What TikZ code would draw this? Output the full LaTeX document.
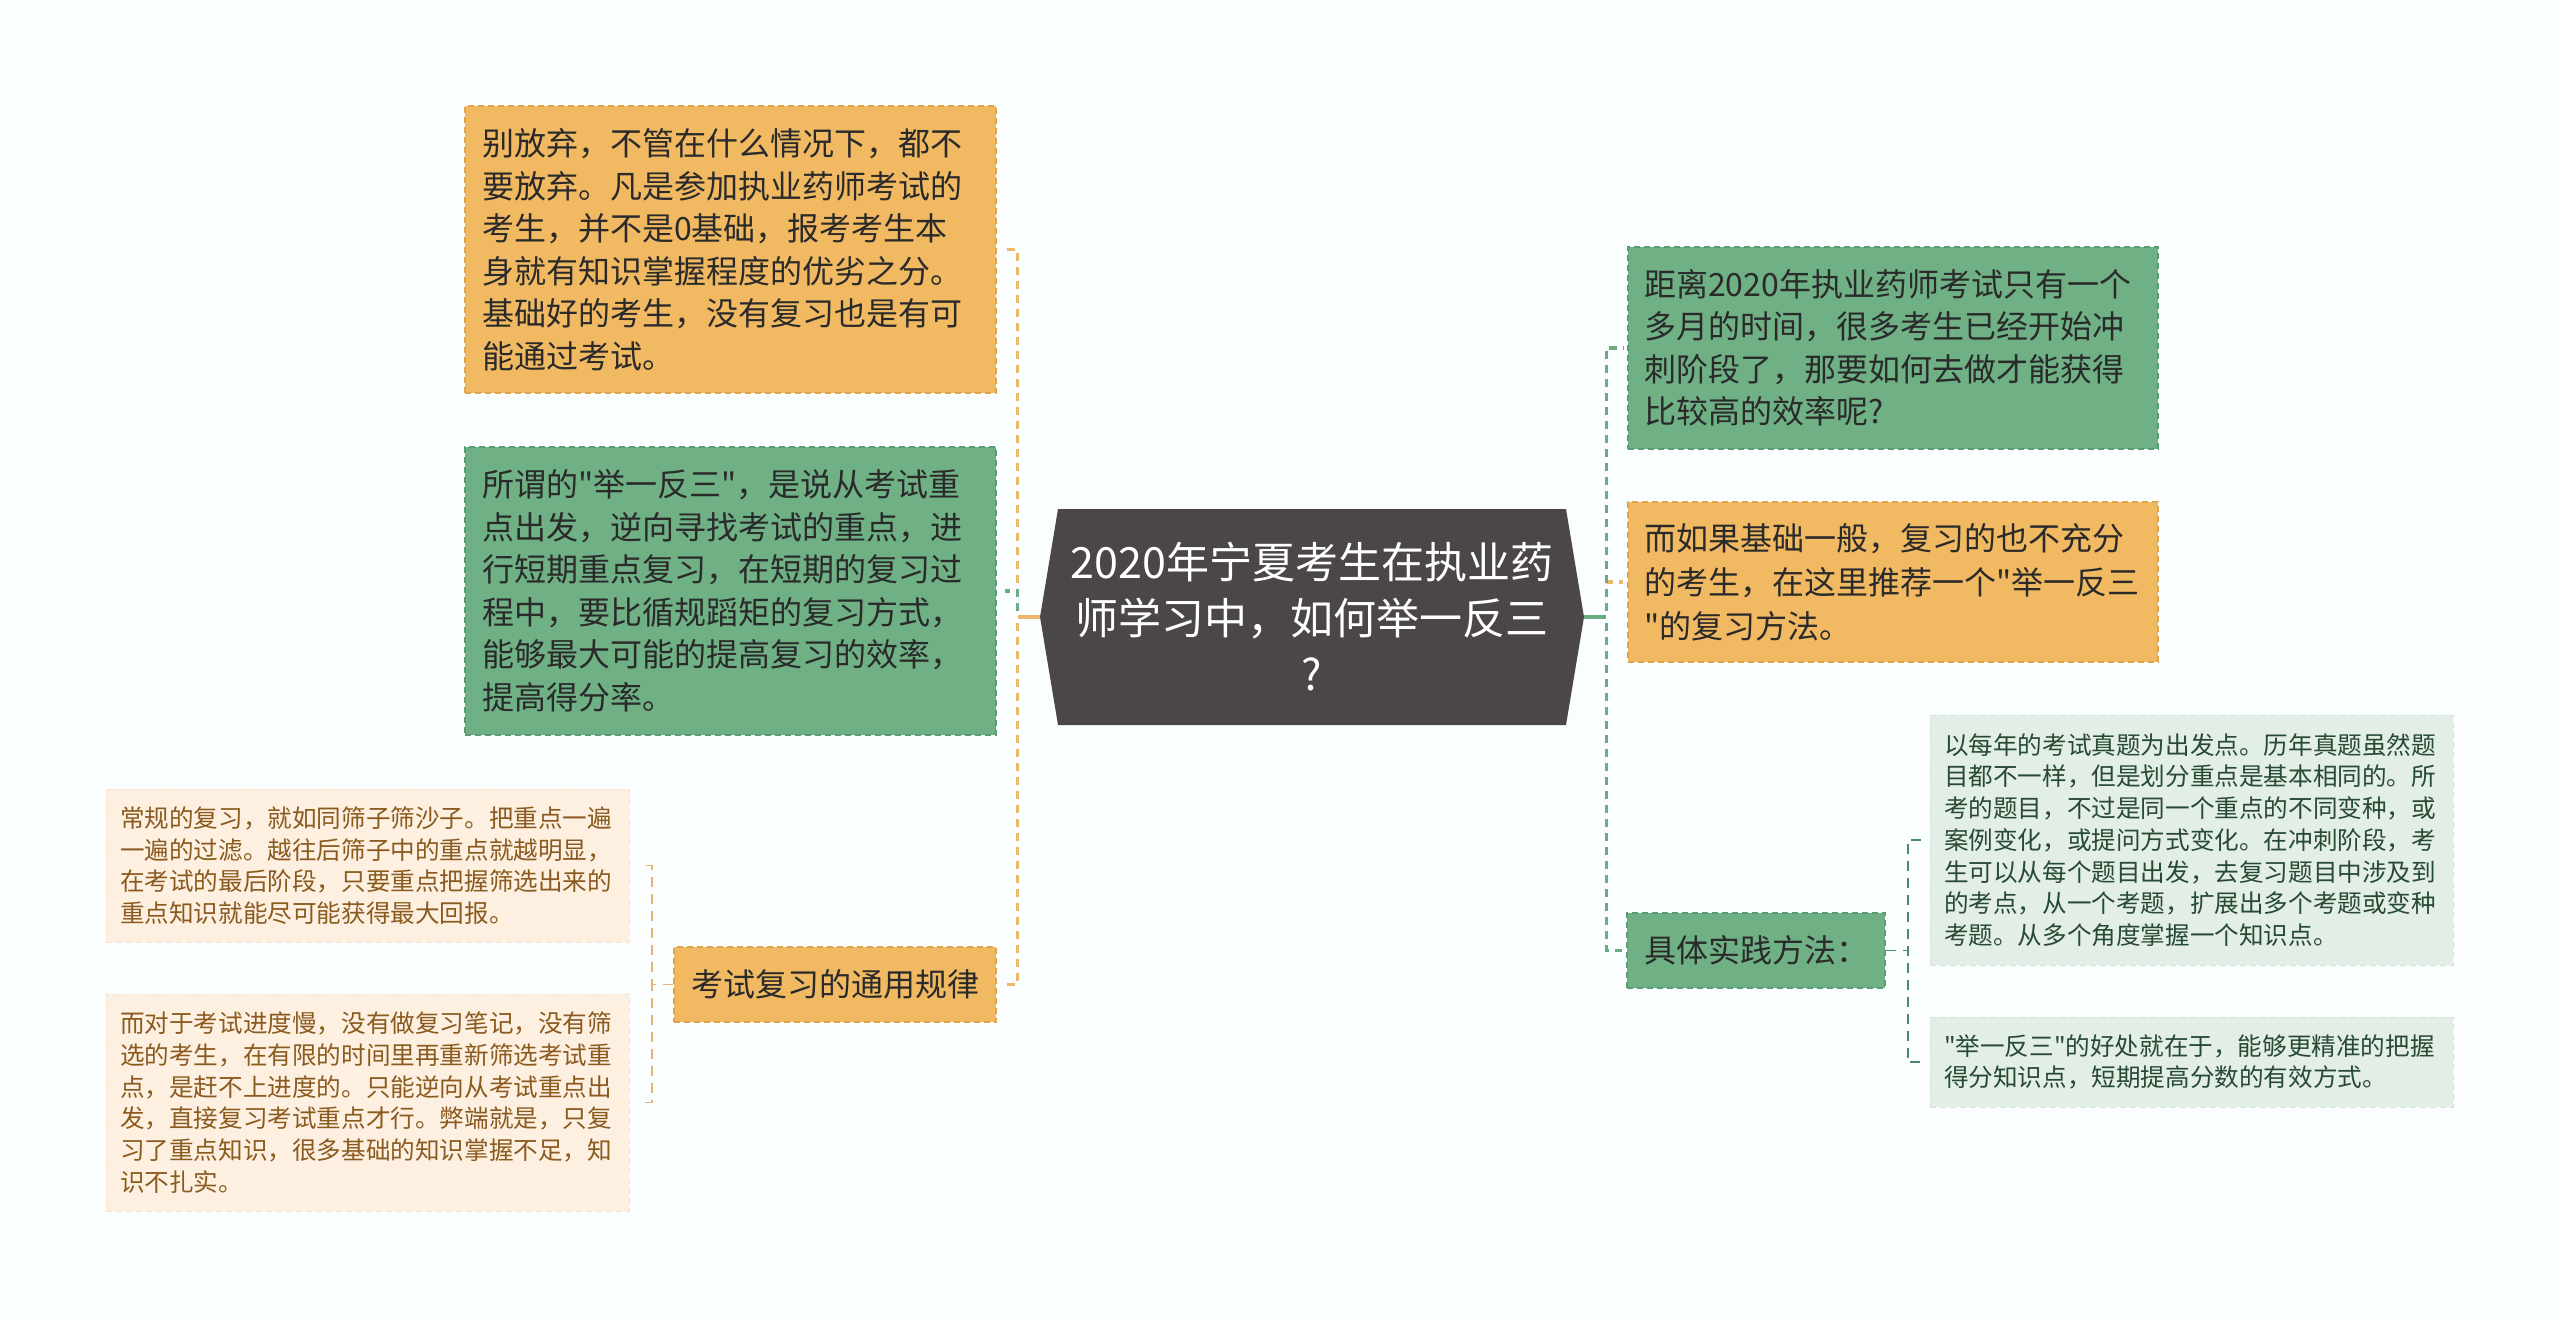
\documentclass[tikz,border=0pt]{standalone}
\usepackage{fontspec}
\setmainfont{Noto Sans CJK SC}[Ligatures=TeXOff]
\usetikzlibrary{calc}
\definecolor{bgc}{HTML}{FBFEFE}
\definecolor{orgfill}{HTML}{F1BA62}
\definecolor{orgline}{HTML}{DFA54D}
\definecolor{grnfill}{HTML}{6FB085}
\definecolor{grnline}{HTML}{5C9C74}
\definecolor{hexc}{HTML}{4B4647}
\definecolor{lorgfill}{HTML}{FDF0E1}
\definecolor{lorgline}{HTML}{F5E2CA}
\definecolor{lorgtext}{HTML}{8A5A1E}
\definecolor{lgrnfill}{HTML}{E3EEE6}
\definecolor{lgrnline}{HTML}{D3E3D8}
\definecolor{lgrntext}{HTML}{274A33}
\definecolor{maintext}{HTML}{2A2A2A}
\definecolor{corg}{HTML}{EDB868}
\definecolor{cgrn}{HTML}{6AAB82}
\definecolor{thinorg}{HTML}{E2B574}
\definecolor{thingrn}{HTML}{4E8A63}
\begin{document}
\begin{tikzpicture}[x=1pt,y=-1pt,
  bigbox/.style={line width=1.5pt, dash pattern=on 6pt off 4pt, inner ysep=0pt,
    align=left, text=maintext, font=\fontsize{32}{42.5}\selectfont},
  orgbox/.style={bigbox, fill=orgfill, draw=orgline},
  grnbox/.style={bigbox, fill=grnfill, draw=grnline},
  smallbox/.style={line width=1pt, dash pattern=on 6pt off 4pt, inner ysep=0pt,
    align=left, font=\fontsize{24.6}{31.7}\selectfont},
  lorgbox/.style={smallbox, fill=lorgfill, draw=lorgline, text=lorgtext},
  lgrnbox/.style={smallbox, fill=lgrnfill, draw=lgrnline, text=lgrntext},
  oconn/.style={draw=corg, line width=3.2pt, dash pattern=on 8pt off 6pt},
  gconn/.style={draw=cgrn, line width=3.2pt, dash pattern=on 8pt off 6pt},
  othin/.style={draw=thinorg, line width=1.6pt, dash pattern=on 10pt off 7pt},
  gthin/.style={draw=thingrn, line width=1.6pt, dash pattern=on 10pt off 7pt}
]
\useasboundingbox (0,0) rectangle (2560,1319);
\fill[bgc] (0,0) rectangle (2560,1319);

% central hexagon
\fill[hexc] (1040,617) -- (1058,509) -- (1566,509) -- (1584,617) -- (1566,725) -- (1058,725) -- cycle;
\node[minimum width=544pt, minimum height=216pt, inner sep=0pt, align=center, text=white,
  font=\fontsize{43}{56}\selectfont] (hub) at (1312,617)
  {2020年宁夏考生在执业药\\师学习中，如何举一反三\\?};

% left side
\node[orgbox, inner xsep=17pt, text width=497pt, minimum width=531pt, minimum height=287pt] (TL) at (730.5,249.5)
 {别放弃，不管在什么情况下，都不\\要放弃。凡是参加执业药师考试的\\考生，并不是0基础，报考考生本\\身就有知识掌握程度的优劣之分。\\基础好的考生，没有复习也是有可\\能通过考试。};
\node[grnbox, inner xsep=17pt, text width=497pt, minimum width=531pt, minimum height=288pt] (GL) at (730.5,591)
 {所谓的"举一反三"，是说从考试重\\点出发，逆向寻找考试的重点，进\\行短期重点复习，在短期的复习过\\程中，要比循规蹈矩的复习方式，\\能够最大可能的提高复习的效率，\\提高得分率。};
\node[orgbox, align=center, inner xsep=16pt, text width=290pt, minimum width=322pt, minimum height=75pt] (RU) at (835,984.5)
 {考试复习的通用规律};
\node[lorgbox, inner xsep=14pt, text width=495pt, minimum width=523pt, minimum height=153pt] (L1) at (367.5,865.5)
 {常规的复习，就如同筛子筛沙子。把重点一遍\\一遍的过滤。越往后筛子中的重点就越明显，\\在考试的最后阶段，只要重点把握筛选出来的\\重点知识就能尽可能获得最大回报。};
\node[lorgbox, inner xsep=14pt, text width=495pt, minimum width=523pt, minimum height=217pt] (L2) at (367.5,1102.5)
 {而对于考试进度慢，没有做复习笔记，没有筛\\选的考生，在有限的时间里再重新筛选考试重\\点，是赶不上进度的。只能逆向从考试重点出\\发，直接复习考试重点才行。弊端就是，只复\\习了重点知识，很多基础的知识掌握不足，知\\识不扎实。};

% right side
\node[grnbox, inner xsep=16pt, text width=498pt, minimum width=530pt, minimum height=202pt] (R1) at (1893,348)
 {距离2020年执业药师考试只有一个\\多月的时间，很多考生已经开始冲\\刺阶段了，那要如何去做才能获得\\比较高的效率呢?};
\node[orgbox, inner xsep=16pt, text width=498pt, minimum width=530pt, minimum height=160pt,
  font=\fontsize{32}{44}\selectfont] (R2) at (1893,582)
 {而如果基础一般，复习的也不充分\\的考生，在这里推荐一个"举一反三\\"的复习方法。};
\node[grnbox, align=center, inner xsep=16pt, text width=226pt, minimum width=258pt, minimum height=75pt] (R3) at (1756,950.5)
 {具体实践方法：};
\node[lgrnbox, inner xsep=14pt, text width=495pt, minimum width=523pt, minimum height=250pt] (RL1) at (2191.5,840)
 {以每年的考试真题为出发点。历年真题虽然题\\目都不一样，但是划分重点是基本相同的。所\\考的题目，不过是同一个重点的不同变种，或\\案例变化，或提问方式变化。在冲刺阶段，考\\生可以从每个题目出发，去复习题目中涉及到\\的考点，从一个考题，扩展出多个考题或变种\\考题。从多个角度掌握一个知识点。};
\node[lgrnbox, inner xsep=14pt, text width=495pt, minimum width=523pt, minimum height=90pt] (RL2) at (2191.5,1062)
 {"举一反三"的好处就在于，能够更精准的把握\\得分知识点，短期提高分数的有效方式。};

% connectors left
\draw[oconn] (hub.west) -- ++(-22,0) |- ([xshift=8pt]TL.east);
\draw[oconn] (hub.west) -- ++(-22,0) |- ([xshift=8pt]RU.east);
\draw[gconn] (hub.west) -- ++(-22,0) |- ([xshift=8pt]GL.east);
\draw[corg, line width=3.2pt] (hub.west) -- ++(-22,0);
\draw[othin] (RU.west) -- ++(-21,0) |- ([xshift=10pt]L1.east);
\draw[othin] (RU.west) -- ++(-21,0) |- ([xshift=10pt]L2.east);

% connectors right
\draw[oconn] (hub.east) -- ++(22,0) |- ([xshift=-4pt]R2.west);
\draw[gconn] (hub.east) -- ++(22,0) |- ([xshift=-4pt]R1.west);
\draw[gconn] (hub.east) -- ++(22,0) |- ([xshift=-4pt]R3.west);
\draw[cgrn, line width=3.2pt] (hub.east) -- ++(22,0);
\draw[gthin] (R3.east) -- ++(22,0) |- ([xshift=-4pt]RL1.west);
\draw[gthin] (R3.east) -- ++(22,0) |- ([xshift=-4pt]RL2.west);
\end{tikzpicture}
\end{document}
